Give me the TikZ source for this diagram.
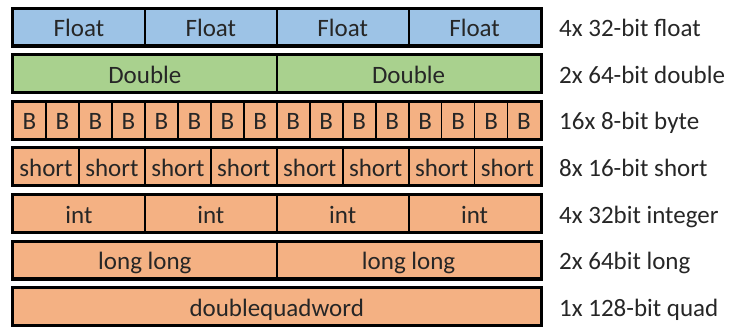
\documentclass[tikz,border=0pt]{standalone}
\usepackage{fontspec}
\setmainfont{Carlito}
\definecolor{floatblue}{RGB}{157,195,230}
\definecolor{doublegreen}{RGB}{169,209,142}
\definecolor{intorange}{RGB}{244,177,131}
\definecolor{inkgray}{RGB}{38,38,38}
\tikzset{
  cell/.style={draw=black, line width=1.8pt, minimum height=36.6pt,
    inner sep=0pt, text height=22pt, text depth=2.6pt, text=inkgray,
    font=\fontsize{25}{25}\selectfont},
  lane/.style={draw=black, line width=2.6pt},
  typelabel/.style={anchor=west, inner sep=0pt, text height=22pt,
    text depth=2.6pt, text=inkgray, font=\fontsize{25}{25}\selectfont}
}
\begin{document}
\begin{tikzpicture}[x=1pt,y=-1pt]
\useasboundingbox (0,0) rectangle (736,327);
% one lane per register view, split into n cells
\foreach \r/\n/\word/\shade/\desc in {
    1/4/Float/floatblue/{4x 32-bit float},
    2/2/Double/doublegreen/{2x 64-bit double},
    3/16/B/intorange/{16x 8-bit byte},
    4/8/short/intorange/{8x 16-bit short},
    5/4/int/intorange/{4x 32bit integer},
    6/2/long long/intorange/{2x 64bit long},
    7/1/doublequadword/intorange/{1x 128-bit quad}}{
  \pgfmathsetmacro{\w}{527.5/\n}
  \pgfmathsetmacro{\yc}{27+46.6*(\r-1)}
  \foreach \k in {1,...,\n}
    \node[cell, fill=\shade, minimum width=\w pt] (r\r-\k) at ({13+(\k-0.5)*\w}, \yc) {\word};
  \draw[lane] (r\r-1.north west) rectangle (r\r-\n.south east);
  \node[typelabel] (t\r) at (559, \yc) {\desc};
}
\end{tikzpicture}
\end{document}
